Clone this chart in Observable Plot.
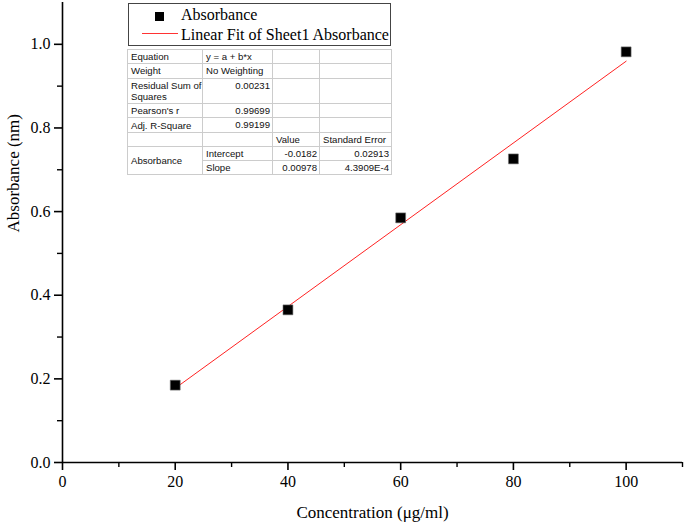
<!DOCTYPE html>
<html>
<head>
<meta charset="utf-8">
<script src="https://cdn.jsdelivr.net/npm/d3@7"></script>
<script src="https://cdn.jsdelivr.net/npm/@observablehq/plot@0.6"></script>
<style>
  html, body { margin: 0; padding: 0; background: #fff; }
  #wrap { position: relative; width: 685px; height: 525px; }
  #legend { position: absolute; left: 128px; top: 3px; width: 261px; height: 41px;
    border: 1px solid #444; background: #fff; font-family: "Liberation Serif", serif; font-size: 16px; color: #000; }
  #legend .sq { position: absolute; left: 26px; top: 8px; width: 9px; height: 9px; background: #000; }
  #legend .ln { position: absolute; left: 13px; top: 29px; width: 36px; height: 0; border-top: 1px solid #f33; }
  #legend .t1 { position: absolute; left: 52px; top: 2px; line-height: 18px; }
  #legend .t2 { position: absolute; left: 52px; top: 22px; line-height: 18px; }
  #stats { position: absolute; left: 127px; top: 49px; border-collapse: collapse; border: 1px solid #777;
    table-layout: fixed; width: 264px;
    font-family: "Liberation Sans", Arial, sans-serif; font-size: 9.6px; color: #111; background: #fff; }
  #stats td { border: 1px solid #ccc; padding: 0 2px 0 3px; vertical-align: middle; line-height: 11px;
    box-sizing: border-box; overflow: hidden; white-space: pre; }
  #stats td.r { text-align: right; }
  #stats td.top { vertical-align: top; padding-top: 1px; }
</style>
</head>
<body>
<div id="wrap">
  <div id="chart"></div>
  <div id="legend">
    <div class="sq"></div><div class="t1">Absorbance</div>
    <div class="ln"></div><div class="t2">Linear Fit of Sheet1 Absorbance</div>
  </div>
  <table id="stats"></table>
</div>
<script>
// Data
const concentration = [20, 40, 60, 80, 100];
const absorbance = [0.185, 0.365, 0.585, 0.726, 0.982];

const xMajorTicks = [0, 20, 40, 60, 80, 100];
const xMinorTicks = [10, 30, 50, 70, 90, 110];
const yMajorTicks = [0, 0.2, 0.4, 0.6, 0.8, 1.0];
const yMinorTicks = [0.1, 0.3, 0.5, 0.7, 0.9];

const xLabel = "Concentration (μg/ml)";
const yLabel = "Absorbance (nm)";

// Fit statistics table
const statRows = [
  ["Equation", "y = a + b*x", "", ""],
  ["Weight", "No Weighting", "", ""],
  ["Residual Sum of\nSquares", "0.00231", "", ""],
  ["Pearson's r", "0.99699", "", ""],
  ["Adj. R-Square", "0.99199", "", ""],
  ["", "", "Value", "Standard Error"]
];
const paramNames = ["Intercept", "Slope"];
const paramValues = ["-0.0182", "0.00978"];
const paramErrors = ["0.02913", "4.3909E-4"];

const data = concentration.map((c, i) => ({x: c, y: absorbance[i]}));

const chart = Plot.plot({
  width: 685,
  height: 525,
  marginLeft: 62,
  marginRight: 3,
  marginTop: 2,
  marginBottom: 63,
  style: {fontFamily: "Liberation Serif, serif", fontSize: "16px", color: "#000", background: "#fff"},
  x: {domain: [0, 110]},
  y: {domain: [0, 1.1]},
  marks: [
    Plot.axisX({ticks: xMinorTicks, tickSize: 5, tickFormat: () => "", label: null, strokeWidth: 1.4}),
    Plot.axisX({ticks: xMajorTicks, tickSize: 8, tickPadding: 5, tickFormat: d => String(d), label: null, strokeWidth: 1.6}),
    Plot.axisY({ticks: yMinorTicks, tickSize: 5, tickFormat: () => "", label: null, strokeWidth: 1.4}),
    Plot.axisY({ticks: yMajorTicks, tickSize: 8, tickPadding: 4, tickFormat: d3.format(".1f"), label: null, strokeWidth: 1.6}),
    Plot.ruleX([0], {stroke: "#000", strokeWidth: 1.6}),
    Plot.ruleY([0], {stroke: "#000", strokeWidth: 1.6}),
    Plot.linearRegressionY(data, {x: "x", y: "y", ci: 0, stroke: "#f22", strokeWidth: 1}),
    Plot.dot(data, {x: "x", y: "y", symbol: "square", r: 5.6, fill: "#000", stroke: "#777", strokeWidth: 0.6}),
    Plot.text([xLabel], {frameAnchor: "bottom", dy: 55, fontSize: 17, fill: "#000"}),
    Plot.text([yLabel], {frameAnchor: "left", dx: -49, rotate: -90, fontSize: 17, fill: "#000"})
  ]
});
document.getElementById("chart").appendChild(chart);

// Build the stats table
const colW = [75, 70, 47, 72];
const rowH = [14, 14.5, 25, 14.5, 15, 14, 14, 14];
const table = document.getElementById("stats");
const colgroup = document.createElement("colgroup");
colW.forEach(w => { const c = document.createElement("col"); c.style.width = w + "px"; colgroup.appendChild(c); });
table.appendChild(colgroup);
statRows.forEach((row, i) => {
  const tr = document.createElement("tr");
  tr.style.height = rowH[i] + "px";
  row.forEach((v, j) => {
    const td = document.createElement("td");
    td.textContent = v;
    if (i >= 2 && i <= 4 && j === 1) td.className = "r top";
    tr.appendChild(td);
  });
  table.appendChild(tr);
});
paramNames.forEach((name, k) => {
  const tr = document.createElement("tr");
  tr.style.height = rowH[6 + k] + "px";
  if (k === 0) {
    const td = document.createElement("td");
    td.rowSpan = 2;
    td.textContent = "Absorbance";
    tr.appendChild(td);
  }
  [name, paramValues[k], paramErrors[k]].forEach((v, j) => {
    const td = document.createElement("td");
    td.textContent = v;
    if (j > 0) td.className = "r";
    tr.appendChild(td);
  });
  table.appendChild(tr);
});
</script>
</body>
</html>
